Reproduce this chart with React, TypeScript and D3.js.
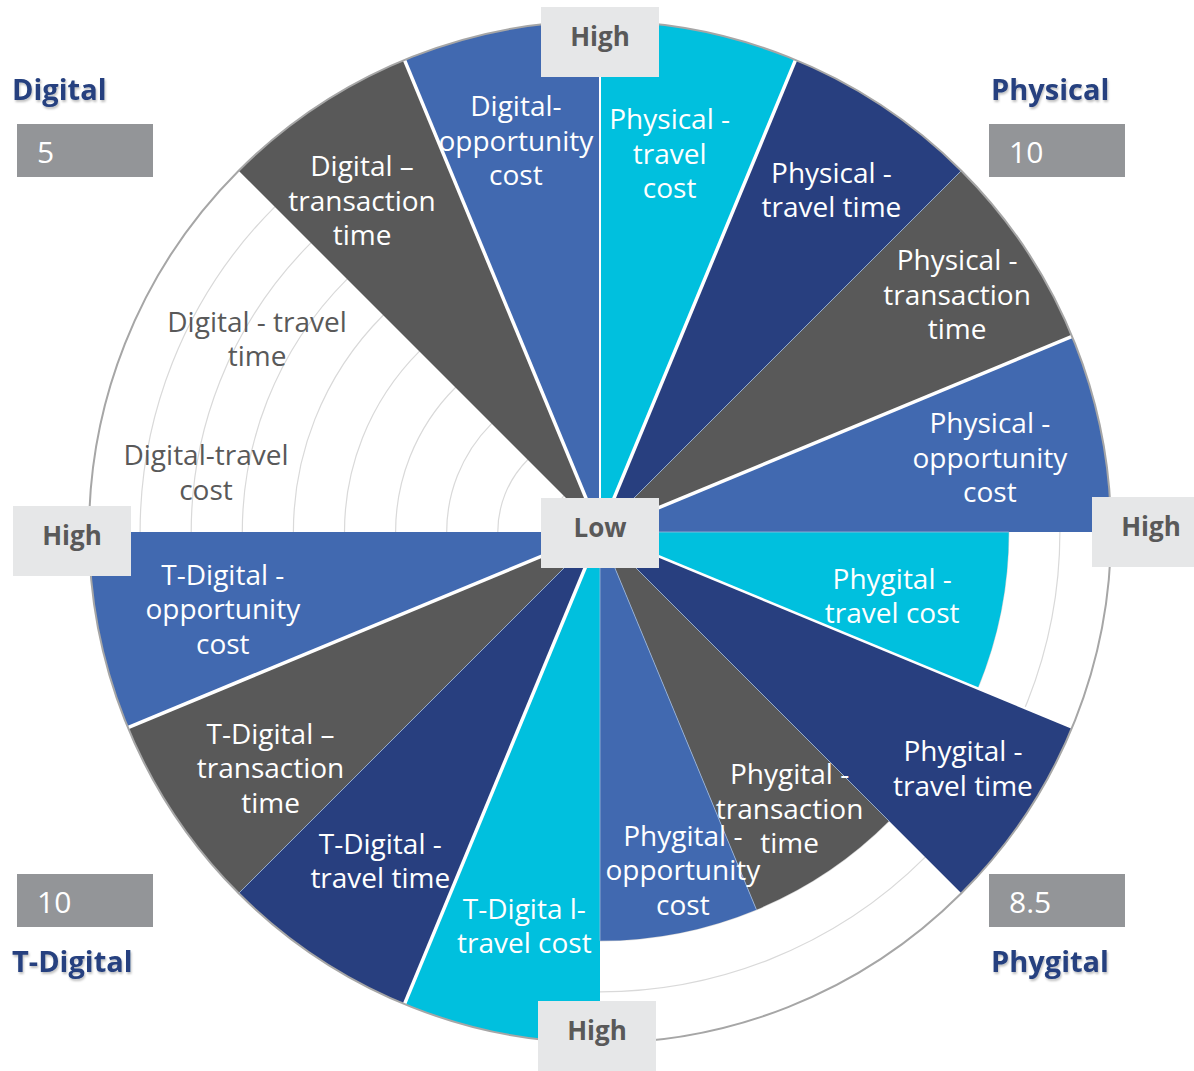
import React from "react";
import * as d3 from "d3";

// ---------- data ----------
const groups = ["Physical", "Phygital", "T-Digital", "Digital"];
const measures = ["travel cost", "travel time", "transaction time", "opportunity cost"];
const physicalValues = [10, 10, 10, 10];
const phygitalValues = [8, 10, 8, 8];
const tDigitalValues = [10, 10, 10, 10];
const digitalValues = [0, 0, 10, 10];
const groupValues = [physicalValues, phygitalValues, tDigitalValues, digitalValues];
const scaleTicks = [1, 2, 3, 4, 5, 6, 7, 8, 9];
const segmentLabels: string[][] = [
  ["Physical -", "travel", "cost"],
  ["Physical -", "travel time"],
  ["Physical -", "transaction", "time"],
  ["Physical -", "opportunity", "cost"],
  ["Phygital -", "travel cost"],
  ["Phygital -", "travel time"],
  ["Phygital -", "transaction", "time"],
  ["Phygital -", "opportunity", "cost"],
  ["T-Digita l-", "travel cost"],
  ["T-Digital -", "travel time"],
  ["T-Digital \u2013", "transaction", "time"],
  ["T-Digital -", "opportunity", "cost"],
  ["Digital-travel", "cost"],
  ["Digital - travel", "time"],
  ["Digital \u2013", "transaction", "time"],
  ["Digital-", "opportunity", "cost"],
];

// ---------- layout / style ----------
const W = 1194;
const H = 1071;
const CX = 600;
const CY = 532;
const R = 511;
const measureColors = ["#00C0DE", "#283F7F", "#595959", "#4169B0"];
// label anchor: [angle in degrees, radius in value units]
const labelAnchors: [number, number][] = [
  [10.4, 7.55], [34, 8.1], [56.3, 8.4], [79.1, 7.77],
  [102.2, 5.85], [123, 8.47], [145.5, 6.55], [166.2, 6.8],
  [190.9, 7.83], [213.8, 7.73], [234.5, 7.92], [258.6, 7.53],
  [278.7, 7.8], [299.5, 7.71], [324.4, 8.0], [347.9, 7.85],
];
// white gap width drawn on boundary k (between segment k-1 and k)
const gapWidths = [2, 3.5, 0, 3.5, 0, 2.5, 0, 0, 0, 3.5, 0, 3.5, 0, 0, 0, 3.5];
const lightLines = [false, false, true, false, true, false, true, true, true, false, true, false, true, false, false, false];

const FONT = "'Open Sans', 'DejaVu Sans', sans-serif";

interface Seg {
  group: string;
  measure: string;
  value: number;
  index: number;
  color: string;
}

const segments: Seg[] = [];
groups.forEach((g, gi) => {
  measures.forEach((m, mi) => {
    segments.push({
      group: g,
      measure: m,
      value: groupValues[gi][mi],
      index: gi * measures.length + mi,
      color: measureColors[mi],
    });
  });
});

const n = segments.length;
const angle = d3
  .scaleLinear()
  .domain([0, n])
  .range([0, 2 * Math.PI]);
const radius = d3.scaleLinear().domain([0, 10]).range([0, R]);

const arcGen = d3.arc<Seg>()
  .innerRadius(0)
  .outerRadius((d) => radius(d.value))
  .startAngle((d) => angle(d.index))
  .endAngle((d) => angle(d.index + 1));

const polar = (aRad: number, r: number): [number, number] => [
  CX + r * Math.sin(aRad),
  CY - r * Math.cos(aRad),
];

const groupTitles = [
  { name: "Digital", tx: 12, ty: 100, bx: 17, by: 124 },
  { name: "Physical", tx: 991, ty: 100, bx: 989, by: 124 },
  { name: "T-Digital", tx: 12, ty: 972, bx: 17, by: 874 },
  { name: "Phygital", tx: 991, ty: 972, bx: 989, by: 874 },
];

const highLowBoxes = [
  { text: "High", x: 541, y: 7 },
  { text: "High", x: 13, y: 506 },
  { text: "High", x: 1092, y: 497 },
  { text: "High", x: 538, y: 1001 },
  { text: "Low", x: 541, y: 498 },
];

export default function App() {
  const scoreOf = (name: string) => {
    const gi = groups.indexOf(name);
    const m = d3.mean(groupValues[gi]) as number;
    return d3.format("~g")(m);
  };

  return (
    <svg
      width={W}
      height={H}
      viewBox={`0 0 ${W} ${H}`}
      style={{ position: "absolute", left: 0, top: 0, background: "#fff" }}
      fontFamily={FONT}
    >
      <defs>
        <filter id="shadow" x="-10%" y="-20%" width="130%" height="160%">
          <feDropShadow dx="1" dy="2" stdDeviation="1.2" floodColor="#000" floodOpacity="0.25" />
        </filter>
      </defs>

      {/* grid circles */}
      <g>
        {scaleTicks.map((t) => (
          <circle key={t} cx={CX} cy={CY} r={radius(t)} fill="none" stroke="#D9D9D9" strokeWidth={1.2} />
        ))}
      </g>

      {/* segments */}
      <g transform={`translate(${CX},${CY})`}>
        {segments.map((s) =>
          s.value > 0 ? <path key={s.index} d={arcGen(s) as string} fill={s.color} /> : null
        )}
      </g>

      {/* boundary lines */}
      <g>
        {segments.map((s, k) => {
          const prev = segments[(k - 1 + n) % n];
          const rMax = radius(Math.max(prev.value, s.value));
          const rMin = radius(Math.min(prev.value, s.value));
          const [x2, y2] = polar(angle(k), gapWidths[k] > 0 ? rMax : rMin);
          if (gapWidths[k] > 0) {
            return <line key={k} x1={CX} y1={CY} x2={x2} y2={y2} stroke="#fff" strokeWidth={gapWidths[k]} />;
          }
          if (lightLines[k] && rMin > 0) {
            return <line key={k} x1={CX} y1={CY} x2={x2} y2={y2} stroke="#9DB7DA" strokeWidth={1} opacity={0.8} />;
          }
          return null;
        })}
      </g>

      {/* outer circle */}
      <circle cx={CX} cy={CY} r={radius(10)} fill="none" stroke="#A6A6A6" strokeWidth={2} />

      {/* segment labels */}
      <g fontSize={28}>
        {segments.map((s, i) => {
          const [deg, ru] = labelAnchors[i];
          const [x, y] = polar((deg * Math.PI) / 180, radius(ru));
          const lines = segmentLabels[i];
          const lh = 34.5;
          const fill = s.value > 0 ? "#FFFFFF" : "#595959";
          return (
            <text key={i} x={x} y={y} textAnchor="middle" fill={fill}>
              {lines.map((ln, j) => (
                <tspan key={j} x={x} y={y + (j - (lines.length - 1) / 2) * lh} dominantBaseline="central">
                  {ln}
                </tspan>
              ))}
            </text>
          );
        })}
      </g>

      {/* High / Low boxes */}
      {highLowBoxes.map((b, i) => (
        <g key={i}>
          <rect x={b.x} y={b.y} width={118} height={70} fill="#E6E7E8" />
          <text
            x={b.x + 59}
            y={b.y + 29}
            textAnchor="middle"
            dominantBaseline="central"
            fontSize={26}
            fontWeight="bold"
            fill="#595959"
          >
            {b.text}
          </text>
        </g>
      ))}

      {/* group titles and scores */}
      {groupTitles.map((g) => (
        <g key={g.name}>
          <text x={g.tx} y={g.ty} fontSize={29} fontWeight="bold" fill="#25417F" filter="url(#shadow)">
            {g.name}
          </text>
          <rect x={g.bx} y={g.by} width={136} height={53} fill="#939598" />
          <text x={g.bx + 20} y={g.by + 27} dominantBaseline="central" fontSize={30} fill="#FFFFFF">
            {scoreOf(g.name)}
          </text>
        </g>
      ))}
    </svg>
  );
}
